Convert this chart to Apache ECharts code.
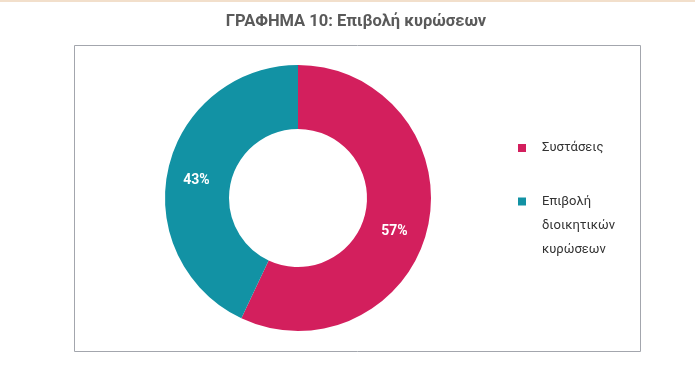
<!DOCTYPE html>
<html>
<head>
<meta charset="utf-8">
<script src="https://cdn.jsdelivr.net/npm/echarts@6/dist/echarts.min.js"></script>
<style>
html,body{margin:0;padding:0;background:#fff;}
#c{width:695px;height:388px;}
</style>
</head>
<body>
<div id="c"></div>
<script>
var titleText = 'ΓΡΑΦΗΜΑ 10: Επιβολή κυρώσεων';
var categories = ['Συστάσεις', 'Επιβολή διοικητικών κυρώσεων'];
var legendLabels = ['Συστάσεις', 'Επιβολή\nδιοικητικών\nκυρώσεων'];
var values = [57, 43];
var colors = ['#d31f5d', '#1292a4'];

var chart = echarts.init(document.getElementById('c'), null, {renderer: 'canvas'});
var font = 'Roboto, "Open Sans", sans-serif';
chart.setOption({
  backgroundColor: '#ffffff',
  animation: false,
  title: {
    text: titleText,
    left: 351,
    textAlign: 'center',
    top: 8,
    textStyle: {fontFamily: font, fontSize: 16.5, fontWeight: 'bold', color: '#5a5a5a'}
  },
  graphic: [
    {type: 'rect', shape: {x: 0, y: 0, width: 695, height: 2}, style: {fill: '#f2dfcb'}, silent: true},
    {type: 'rect', shape: {x: 74.5, y: 45.5, width: 566, height: 306}, style: {fill: 'none', stroke: '#a3a6ad', lineWidth: 1}, silent: true}
  ],
  legend: [
    {
      data: [categories[0]],
      orient: 'vertical',
      left: 513, top: 136.5,
      itemWidth: 8, itemHeight: 8,
      icon: 'rect',
      itemStyle: {borderWidth: 0},
      formatter: function () { return legendLabels[0]; },
      textStyle: {fontFamily: font, fontSize: 13, color: '#333', padding: [0, 0, 0, 11]}
    },
    {
      data: [categories[1]],
      orient: 'vertical',
      left: 513, top: 184.5,
      itemWidth: 8, itemHeight: 56,
      icon: 'path://M0,0H8V8H0Z M4,56L4,56',
      itemStyle: {borderWidth: 0},
      formatter: function () { return legendLabels[1]; },
      textStyle: {fontFamily: font, fontSize: 13, color: '#333', lineHeight: 24, padding: [0, 0, 0, 11]}
    }
  ],
  series: [{
    type: 'pie',
    center: [298, 198],
    radius: [69, 133],
    startAngle: 90,
    clockwise: true,
    itemStyle: {borderWidth: 0},
    data: categories.map(function (c, i) {
      return {
        name: c, value: values[i], itemStyle: {color: colors[i]},
        label: {offset: i === 0 ? [-5, 11] : [0, 5]}
      };
    }),
    label: {
      show: true,
      position: 'inside',
      formatter: '{c}%',
      color: '#fff',
      fontFamily: font,
      fontSize: 14,
      fontWeight: 'bold'
    },
    labelLine: {show: false},
    emphasis: {disabled: true}
  }]
});
</script>
</body>
</html>
